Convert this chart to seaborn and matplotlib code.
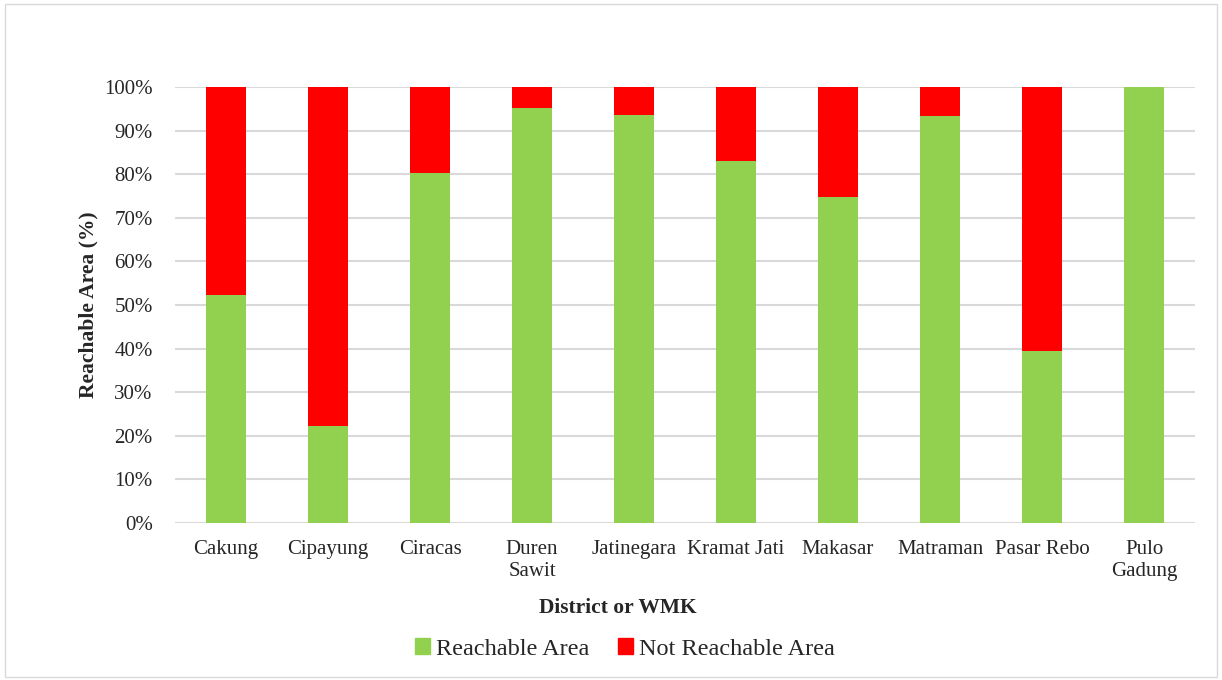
import matplotlib
matplotlib.use("Agg")
import matplotlib.pyplot as plt
import matplotlib.patches as mpatches
import seaborn as sns
import pandas as pd

districts = ["Cakung", "Cipayung", "Ciracas", "Duren\nSawit", "Jatinegara",
             "Kramat Jati", "Makasar", "Matraman", "Pasar Rebo", "Pulo\nGadung"]
reachable = [52.2, 22.3, 80.2, 95.2, 93.5, 83.0, 74.7, 93.3, 39.4, 100.0]
not_reachable = [100 - r for r in reachable]
y_ticks = [0, 10, 20, 30, 40, 50, 60, 70, 80, 90, 100]

green = "#92d050"
red = "#ff0000"

sns.set_theme(style="white")
plt.rcParams['font.family'] = ['Liberation Serif', 'DejaVu Serif']

df = pd.DataFrame({"district": districts, "reachable": reachable,
                   "not_reachable": not_reachable})
df["total"] = df["reachable"] + df["not_reachable"]

fig = plt.figure(figsize=(12.22, 6.8), dpi=100)
ax = fig.add_axes([175/1222, 1 - 523/680, 1020/1222, 436/680])

sns.barplot(data=df, x="district", y="total", color=red, width=0.4,
            saturation=1, ax=ax, zorder=3, linewidth=0, edgecolor="none")
sns.barplot(data=df, x="district", y="reachable", color=green, width=0.4,
            saturation=1, ax=ax, zorder=4, linewidth=0, edgecolor="none")

ax.set_ylim(0, 100)
ax.set_xlim(-0.5, len(districts) - 0.5)
ax.set_yticks(y_ticks)
ax.set_yticklabels([f"{t}%" for t in y_ticks], fontsize=15)
ax.tick_params(axis="x", labelsize=15, length=0, pad=12)
ax.tick_params(axis="y", length=0, pad=16)
for lab in ax.get_xticklabels():
    lab.set_verticalalignment("top")
    lab.set_linespacing(1.25)
ax.grid(axis="y", color="#d9d9d9", linewidth=1.5, zorder=0)
ax.set_axisbelow(True)
for s in ax.spines.values():
    s.set_visible(False)

ax.set_ylabel("Reachable Area (%)", fontsize=15.5, fontweight="bold")
ax.yaxis.set_label_coords(-(175 - 88) / 1020, 0.5)
ax.yaxis.label.set_verticalalignment("center")
ax.set_xlabel("District or WMK", fontsize=15.5, fontweight="bold")
ax.xaxis.set_label_coords((618 - 175) / 1020, -(608 - 523) / 436)
ax.xaxis.label.set_verticalalignment("center")

handles = [mpatches.Patch(color=green, label="Reachable Area"),
           mpatches.Patch(color=red, label="Not Reachable Area")]
fig.legend(handles=handles, loc="center", bbox_to_anchor=(625/1222, 1 - 649/680),
           ncol=2, frameon=False, fontsize=17.5, handlelength=0.6, handleheight=0.6,
           handletextpad=0.25, columnspacing=1.2)

border = mpatches.Rectangle((0.004, 0.004), 0.992, 0.99, transform=fig.transFigure,
                            fill=False, edgecolor="#d9d9d9", linewidth=1)
fig.patches.append(border)

fig.savefig("out.png", dpi=100)
